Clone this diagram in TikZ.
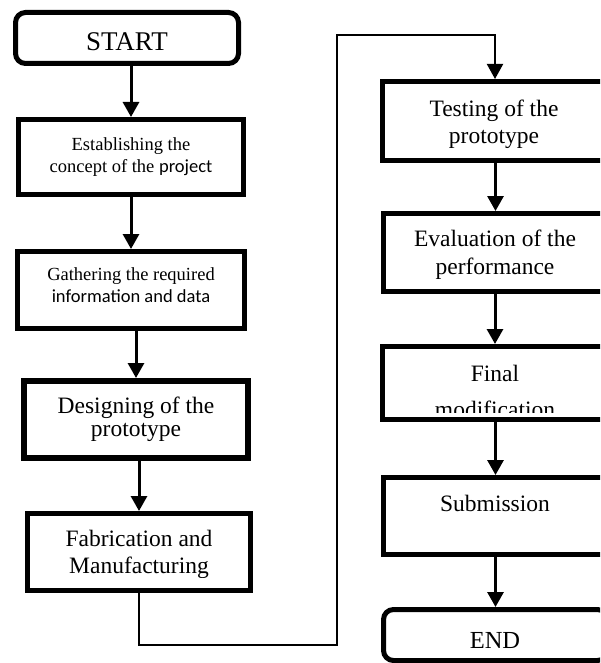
\documentclass[tikz,border=0pt]{standalone}
\usepackage{fontspec}
\setmainfont{Liberation Serif}
\newfontfamily\calfont{Carlito}
\usetikzlibrary{arrows.meta}
\begin{document}
\begin{tikzpicture}[x=1pt,y=-1pt,
  box/.style={draw, line width=5pt, inner sep=0pt, fill=white},
  term/.style={box, rounded corners=10pt},
  txt/.style={anchor=north, inner sep=0pt, align=center, text=black},
  smallf/.style={font=\fontsize{18.5}{22.5}\selectfont},
  bigf/.style={font=\fontsize{23.5}{#1}\selectfont},
  arr/.style={line width=3pt, -{Triangle[width=16pt,length=15pt]}},
  looparr/.style={line width=2pt, -{Triangle[width=16pt,length=15pt]}}]
\clip (0,0) rectangle (600,663);
\fill[white] (0,0) rectangle (600,663);

% left column boxes
\node[term, minimum width=223pt, minimum height=51pt] (start) at (127,38) {};
\node[box, minimum width=225pt, minimum height=75pt] (b1) at (131,157) {};
\node[box, minimum width=227pt, minimum height=77pt] (b2) at (131,290) {};
\node[box, line width=6pt, minimum width=224pt, minimum height=77pt] (b3) at (136,419.5) {};
\node[box, minimum width=223pt, minimum height=77pt] (b4) at (139,552) {};

% right column boxes
\node[box, minimum width=225pt, minimum height=79pt] (b5) at (495,121) {};
\node[box, minimum width=224pt, minimum height=78pt] (b6) at (495.5,252.5) {};
\node[box, minimum width=225pt, minimum height=73pt] (b7) at (495,383) {};
\node[box, minimum width=224pt, minimum height=77pt] (b8) at (495.5,516) {};
\node[term, minimum width=224pt, minimum height=51pt] (end) at (495.5,635) {};

% texts
\node[txt, font=\fontsize{27}{30}\selectfont] (tstart) at (127,32.5) {START};
\node[txt, smallf] (t1) at (131,137) {Establishing the\\concept of the {\calfont project}};
\node[txt, smallf] (t2) at (131,267) {Gathering the required\\{\calfont information and data}};
\node[txt, bigf=22.5] (t3) at (136,397) {Designing of the\\prototype};
\begin{scope}
  \clip (20,500) rectangle (260,577);
  \node[txt, bigf=27] (t4) at (139,530) {Fabrication and\\Manufacturing};
\end{scope}
\node[txt, bigf=27] (t5) at (494,100) {Testing of the\\prototype};
\node[txt, bigf=28] (t6) at (495,230) {Evaluation of the\\performance};
\begin{scope}
  \clip (380,340) rectangle (610,412);
  \node[txt, bigf=35.5] (t7) at (495,365) {Final\\modification};
\end{scope}
\node[txt, bigf=28] (t8) at (495,495) {Submission};
\node[txt, font=\fontsize{24.5}{28}\selectfont] (tend) at (495,632) {END};

% connectors
\draw[arr] (b1.north |- start.south) -- (b1.north);
\draw[arr] (b2.north |- b1.south) -- (b2.north);
\draw[arr] (b3.north |- b2.south) -- (b3.north);
\draw[arr] (b4.north |- b3.south) -- (b4.north);
\coordinate (c1) at (337,645);
\coordinate (c2) at (337,35);
\draw[looparr] (b4.south) |- (c1) -- (c2) -| (b5.north);
\draw[arr] (b6.north |- b5.south) -- (b6.north);
\draw[arr] (b7.north |- b6.south) -- (b7.north);
\draw[arr] (b8.north |- b7.south) -- (b8.north);
\draw[arr] (end.north |- b8.south) -- (end.north);
\end{tikzpicture}
\end{document}
